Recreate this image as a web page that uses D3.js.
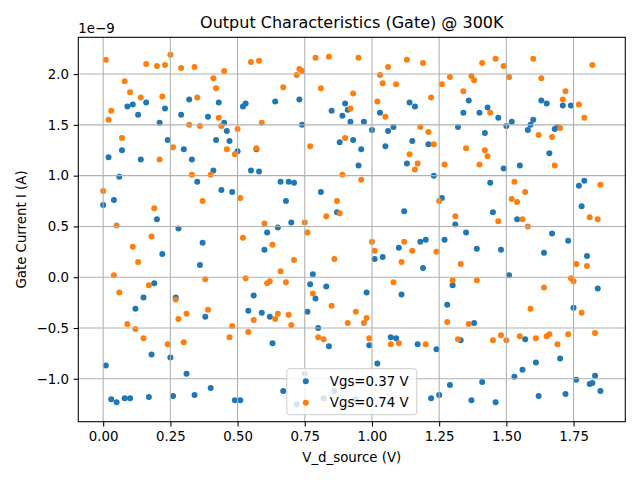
<!DOCTYPE html>
<html>
<head>
<meta charset="utf-8">
<script src="https://cdn.jsdelivr.net/npm/d3@7"></script>
<style>
  body { margin: 0; background: #fff; }
  text { font-family: "DejaVu Sans", sans-serif; }
</style>
</head>
<body>
<svg id="chart" width="640" height="480"></svg>
<script>
// drain sweep: one sample every 0.01 V from 0 to 1.85 V
const vdSource = d3.range(186).map(i => i / 100);

// gate current in units of 1e-9 A, one value per vdSource sample
const gateVgs037 = [
  0.71, -0.87, 1.18, -1.20, 0.76, -1.23, 0.99, 1.25, -1.19, 1.68,
  -1.19, 1.70, -0.31, 1.60, 1.16, -0.20, 1.72, -1.18, -0.76, -0.06,
  0.57, 1.52, 0.23, 1.66, 1.35, -0.79, -1.17, -0.20, 0.48, 1.60,
  1.26, -0.95, 1.75, 1.16, -1.16, 0.94, 0.12, 0.34, -0.39, 1.58,
  -1.09, 1.05, 1.35, 1.72, 0.86, 1.52, 1.44, 1.34, 0.84, -1.21,
  1.24, -1.21, 1.68, 1.71, -0.33, 1.05, -0.18, 1.26, 1.04, -0.35,
  0.27, 0.44, -0.39, -0.65, 1.73, 0.49, 0.94, -1.12, 0.75, 0.94,
  0.54, 0.93, -1.25, 1.75, 1.50, -0.95, -0.34, -0.07, 0.03, -0.21,
  -0.50, 0.84, -1.19, -0.09, -0.68, 1.64, -1.12, 0.64, 1.33, 1.59,
  1.71, 1.65, 1.53, 1.35, -1.20, 1.10, 1.26, 1.53, -0.15, -0.67,
  1.45, 0.18, -0.85, 1.62, 0.20, 1.29, 1.44, -0.59, 1.48, -0.60,
  0.29, -0.17, 0.65, 1.12, 1.72, 1.34, 1.68, -0.66, 0.35, 0.09,
  0.37, 1.31, -1.19, 1.00, -0.71, -1.16, 0.78, 0.37, -0.27, -1.06,
  -0.08, 0.52, 1.48, -0.62, 1.62, 0.44, 1.74, -1.21, -0.45, 0.28,
  1.62, -1.03, 1.42, 1.67, 0.93, 0.64, -1.23, 1.57, 0.27, 1.07,
  1.49, 0.02, 1.53, -0.98, 0.57, 1.10, -0.91, -0.61, 1.45, 1.50,
  1.55, -0.84, -1.17, 1.74, 0.24, 1.71, 1.22, 0.43, 1.46, 1.48,
  -0.80, 1.69, -1.15, 0.36, 1.69, -0.30, -1.01, 0.90, 0.70, 0.95,
  0.21, -1.05, -1.04, -0.97, -0.11, -1.12
];

const gateVgs074 = [
  0.85, 2.14, 1.55, 1.64, 0.02, 0.51, -0.15, 1.37, 1.93, -0.46,
  1.82, 0.30, -0.51, 0.15, 1.77, -0.60, 2.10, -0.08, 0.40, 0.68,
  2.08, 1.16, 1.78, 2.09, -0.66, 2.19, 1.28, -0.22, -0.41, 2.06,
  -0.64, -0.36, 1.50, 1.01, 2.07, 1.77, 1.49, 0.75, -0.02, -0.32,
  1.01, 1.96, 1.86, 1.57, 1.49, 2.03, 1.26, -0.59, -0.48, 1.21,
  1.46, 0.78, 0.39, -0.01, -0.54, 2.12, -0.42, 1.27, 2.13, 1.52,
  0.53, -0.06, -0.04, 0.32, -0.41, -0.36, 0.06, 1.87, -0.05, -0.37,
  -0.47, 0.17, 1.99, 2.05, 2.03, 0.54, 0.44, 1.29, -0.16, 2.16,
  -0.59, 1.86, -0.61, 0.60, 2.17, -0.28, 0.18, 0.75, 0.63, 1.01,
  1.37, -0.45, 1.66, 1.81, -0.34, 2.16, 0.96, -0.45, -0.40, -0.60,
  0.35, 0.26, 1.73, 1.99, 1.91, 1.58, 2.07, -0.66, -0.05, 1.90,
  -0.65, 0.15, 0.35, 2.14, 1.21, 0.26, 1.06, 1.12, 1.48, 2.11,
  -0.66, 1.43, 1.77, 1.31, 0.25, 0.75, 1.90, 1.11, -0.44, 1.97,
  -0.03, 0.60, -0.61, 0.13, 1.83, 1.27, -0.46, 1.98, 1.94, -0.03,
  1.11, 2.11, 1.25, 1.19, 1.62, -0.62, 2.15, 0.55, -0.57, 2.08,
  -0.62, 1.97, 0.77, 0.94, 0.74, -0.58, 0.57, 0.84, 0.50, -0.31,
  2.15, -0.60, 1.40, 1.96, -0.10, -0.58, -0.56, 1.38, 1.10, -0.66,
  1.47, 1.75, 1.83, -0.56, -0.01, -0.04, 0.13, 1.70, -0.35, 1.57,
  0.11, 0.59, 2.09, -0.55, 0.57, 0.91
];

const seriesLabels = ["Vgs=0.37 V", "Vgs=0.74 V"];
const seriesColors = ["#1f77b4", "#ff7f0e"];
const xTicks = [0, 0.25, 0.5, 0.75, 1.0, 1.25, 1.5, 1.75];
const yTicks = [-1.0, -0.5, 0.0, 0.5, 1.0, 1.5, 2.0];

const width = 640, height = 480;
const margin = { top: 37.3, right: 14.7, bottom: 58.3, left: 78.3 };
const iw = width - margin.left - margin.right;
const ih = height - margin.top - margin.bottom;

const svg = d3.select("#chart");

// matplotlib style 5% padding on the data range
function padded(lo, hi) {
  const p = (hi - lo) * 0.05;
  return [lo - p, hi + p];
}
const allY = gateVgs037.concat(gateVgs074);
const x = d3.scaleLinear().domain(padded(d3.min(vdSource), d3.max(vdSource))).range([0, iw]);
const y = d3.scaleLinear().domain(padded(d3.min(allY), d3.max(allY))).range([ih, 0]);

const g = svg.append("g").attr("transform", `translate(${margin.left},${margin.top})`);

// points
const series = [gateVgs037, gateVgs074];
series.forEach((vals, k) => {
  g.append("g")
    .selectAll("circle")
    .data(vals)
    .enter().append("circle")
    .attr("cx", (d, i) => x(vdSource[i]))
    .attr("cy", d => y(d))
    .attr("r", 3)
    .attr("fill", seriesColors[k]);
});

// grid sits above the scatter, as matplotlib does by default
g.append("g")
  .selectAll("line.gx")
  .data(xTicks)
  .enter().append("line")
  .attr("x1", d => x(d)).attr("x2", d => x(d))
  .attr("y1", 0).attr("y2", ih)
  .attr("stroke", "#b0b0b0").attr("stroke-width", 1.07);
g.append("g")
  .selectAll("line.gy")
  .data(yTicks)
  .enter().append("line")
  .attr("y1", d => y(d)).attr("y2", d => y(d))
  .attr("x1", 0).attr("x2", iw)
  .attr("stroke", "#b0b0b0").attr("stroke-width", 1.07);

// axes
const xAxis = d3.axisBottom(x).tickValues(xTicks).tickFormat(d3.format(".2f")).tickSize(4.7).tickPadding(4.7);
const yAxis = d3.axisLeft(y).tickValues(yTicks).tickFormat(d3.format(".1f")).tickSize(4.7).tickPadding(4.7);

const gx = g.append("g").attr("transform", `translate(0,${ih})`).call(xAxis);
const gy = g.append("g").call(yAxis);
[gx, gy].forEach(a => {
  a.select(".domain").remove();
  a.selectAll(".tick line").attr("stroke", "#000").attr("stroke-width", 1.07);
  a.selectAll(".tick text").attr("fill", "#000").style("font-size", "13.33px")
    .style("font-family", "'DejaVu Sans', sans-serif");
});

// frame
g.append("rect")
  .attr("x", 0).attr("y", 0).attr("width", iw).attr("height", ih)
  .attr("fill", "none").attr("stroke", "#000").attr("stroke-width", 1.07);

// offset text
g.append("text")
  .attr("x", 0).attr("y", -4)
  .style("font-size", "13.33px")
  .text("1e\u22129");

// title and labels
svg.append("text")
  .attr("x", margin.left + iw / 2).attr("y", margin.top - 9)
  .attr("text-anchor", "middle")
  .style("font-size", "16px")
  .text("Output Characteristics (Gate) @ 300K");

svg.append("text")
  .attr("x", margin.left + iw / 2).attr("y", height - 18)
  .attr("text-anchor", "middle")
  .style("font-size", "13.33px")
  .text("V_d_source (V)");

svg.append("text")
  .attr("transform", `translate(26,${margin.top + ih / 2}) rotate(-90)`)
  .attr("text-anchor", "middle")
  .style("font-size", "13.33px")
  .text("Gate Current I (A)");

// legend, lower centre
const lw = 130, lh = 46;
const lg = g.append("g").attr("transform", `translate(${iw / 2 - lw / 2},${ih - lh - 7})`);
lg.append("rect")
  .attr("width", lw).attr("height", lh).attr("rx", 3)
  .attr("fill", "#fff").attr("fill-opacity", 0.8)
  .attr("stroke", "#cccccc").attr("stroke-width", 1);
seriesLabels.forEach((lab, k) => {
  const row = lg.append("g").attr("transform", `translate(0,${12.5 + k * 21.5})`);
  row.append("circle").attr("cx", 19).attr("cy", 0).attr("r", 3).attr("fill", seriesColors[k]);
  row.append("text").attr("x", 43).attr("y", 0).attr("dy", "0.35em")
    .style("font-size", "13.33px").text(lab);
});
</script>
</body>
</html>
